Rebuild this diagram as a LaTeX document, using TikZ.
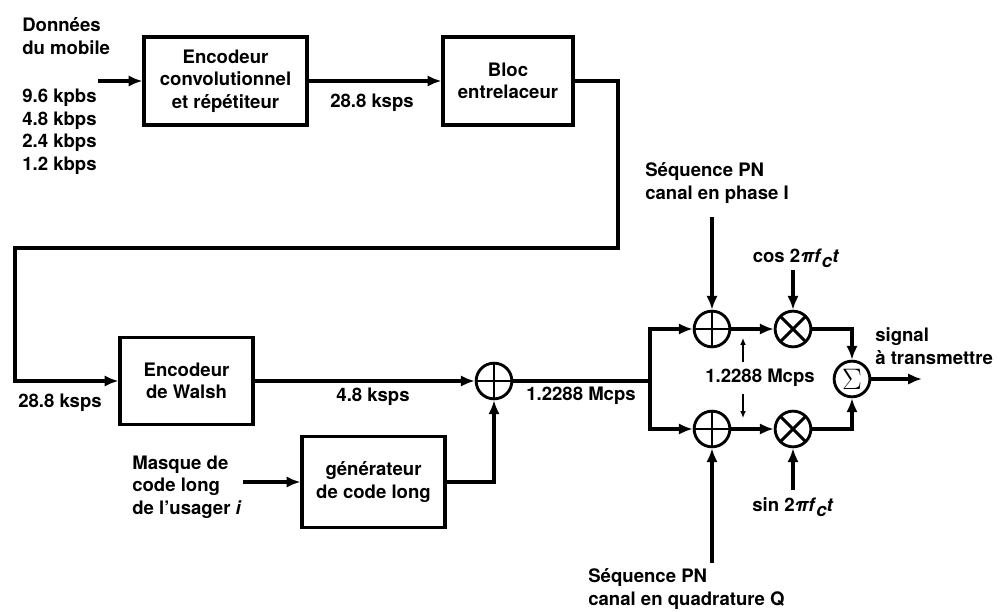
\documentclass[tikz,border=0pt]{standalone}
\usepackage{fontspec}
\setmainfont{TeX Gyre Heros}
\usetikzlibrary{arrows.meta,positioning,calc}
\newcommand{\carrierarg}{2\textit{πf}\raisebox{-3.5pt}{\textit{c}}\textit{t}}

\begin{document}
\begin{tikzpicture}[
  x=0.7pt,y=-0.7pt,
  every node/.style={font=\fontsize{13}{15.75}\selectfont\bfseries},
  block/.style={draw,line width=2.3pt,align=center,inner sep=0pt},
  lbl/.style={align=left,inner sep=0pt},
  opcirc/.style={circle,draw,line width=2pt,minimum size=25pt,inner sep=0pt},
  xorop/.style={opcirc,path picture={
      \draw[line width=2pt] (path picture bounding box.north) -- (path picture bounding box.south)
        (path picture bounding box.west) -- (path picture bounding box.east);}},
  mulop/.style={opcirc,path picture={
      \draw[line width=2pt] (path picture bounding box.north west) -- (path picture bounding box.south east)
        (path picture bounding box.north east) -- (path picture bounding box.south west);}},
  sumop/.style={opcirc,font=\fontsize{20}{20}\selectfont},
  wire/.style={line width=2.3pt},
  link/.style={wire,-{Latex[length=3.4mm,width=2.8mm]}},
  tick/.style={line width=0.8pt,-{Latex[length=1.7mm,width=1.4mm]}},
]
\useasboundingbox (0,0) rectangle (1008,611);

% Source and first coding stages
\node[lbl,anchor=west] (src) at (22,36) {Données\\du mobile};
\node[lbl,anchor=west] (rates) at (22,132) {9.6 kpbs\\4.8 kbps\\2.4 kbps\\1.2 kbps};
\node[block,minimum width=114pt,minimum height=61.6pt] (conv) at (225.5,81) {Encodeur\\convolutionnel\\et répétiteur};
\node[block,minimum width=91pt,minimum height=61.6pt] (intl) at (508,81) {Bloc\\entrelaceur};
\node (r1) at (372,103) {28.8 ksps};
\coordinate (din) at (98,81);
\draw[link] (din) -- (conv);
\draw[link] (conv) -- (intl);

% Walsh coding and long-code scrambling
\node[block,minimum width=93pt,minimum height=61pt] (walsh) at (186.5,381) {Encodeur\\de Walsh};
\node (r2) at (60,403) {28.8 ksps};
\node[xorop] (xm) at (494,381) {};
\node (r3) at (373,397) {4.8 ksps};
\node[block,minimum width=100pt,minimum height=63.7pt] (gen) at (373.5,482) {générateur\\de code long};
\node[lbl,anchor=west] (mask) at (132,487) {Masque de\\code long\\de l'usager \textit{i}};
\node (r4) at (581,396) {1.2288 Mcps};
\coordinate (c1) at (618,248);
\coordinate (c2) at (15,248);
\coordinate (min) at (243,482);
\draw[link] (intl.east) -| (c1) -- (c2) |- (walsh.west);
\draw[link] (walsh) -- (xm);
\draw[link] (min) -- (gen);
\draw[link] (gen.east) -| (xm.south);

% I and Q branches
\coordinate (sp) at (650,381);
\node[xorop] (xi) at (712,329) {};
\node[xorop] (xq) at (712,429) {};
\node[mulop] (mi) at (793,329) {};
\node[mulop] (mq) at (793,429) {};
\node[sumop] (sum) at (852,379) {$\Sigma$};
\node[lbl,anchor=west] (pni) at (645,183) {Séquence PN\\canal en phase I};
\node[lbl,anchor=west] (pnq) at (588,589) {Séquence PN\\canal en quadrature Q};
\node (cosl) at (796,258) {cos \carrierarg};
\node (sinl) at (793,507) {sin \carrierarg};
\node (r5) at (760,378) {1.2288 Mcps};
\node[lbl,anchor=west] (sig) at (875,346) {signal\\à transmettre};
\coordinate (pnin) at (712,217);
\coordinate (pnqin) at (712,563);
\coordinate (cosin) at (793,270);
\coordinate (sinin) at (793,490);
\coordinate (out) at (922,379);
\coordinate (tu) at (743,338);
\coordinate (td) at (743,418);
\draw[wire] (xm) -- (sp);
\draw[link] (sp) |- (xi);
\draw[link] (sp) |- (xq);
\draw[link] (pnin) -- (xi);
\draw[link] (pnqin) -- (xq);
\draw[link] (xi) -- (mi);
\draw[link] (xq) -- (mq);
\draw[link] (cosin) -- (mi);
\draw[link] (sinin) -- (mq);
\draw[link] (mi) -| (sum);
\draw[link] (mq) -| (sum);
\draw[link] (sum) -- (out);
\draw[tick] (r5.north -| tu) ++(0,-2) -- (tu);
\draw[tick] (r5.south -| td) ++(0,2) -- (td);
\end{tikzpicture}
\end{document}
